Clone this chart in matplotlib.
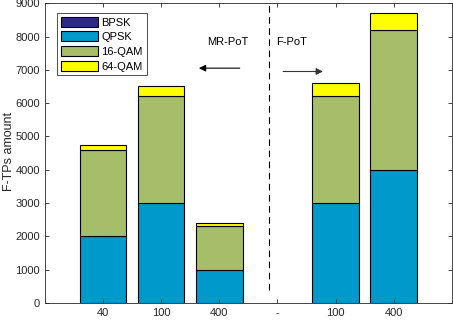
import matplotlib
matplotlib.use("Agg")
import matplotlib.pyplot as plt
import numpy as np

plt.rcParams['font.family'] = ['Liberation Sans', 'DejaVu Sans']

categories = ['40', '100', '400', '-', '100', '400']
bpsk = [0, 0, 0, 0, 0, 0]
qpsk = [2000, 3000, 1000, 0, 3000, 4000]
qam16 = [2600, 3200, 1300, 0, 3200, 4200]
qam64 = [150, 300, 100, 0, 400, 500]
series_names = ['BPSK', 'QPSK', '16-QAM', '64-QAM']
colors = ['#2e2a80', '#0099cc', '#a6bd6a', '#ffff00']

fig = plt.figure(figsize=(4.53, 3.2), dpi=100)
ax = fig.add_axes([0.0993, 0.053, 0.898, 0.937])

x = np.arange(1, len(categories) + 1)
bottom = np.zeros(len(categories))
for vals, name, c in zip([bpsk, qpsk, qam16, qam64], series_names, colors):
    vals = np.array(vals, dtype=float)
    bars = ax.bar(x, vals, 0.8, bottom=bottom, color=c, edgecolor='black', linewidth=0.8, label=name)
    for b, v in zip(bars, vals):
        if v == 0:
            b.set_visible(False)
    bottom += vals

ax.set_xlim(0, 7)
ax.set_ylim(0, 9000)
ax.set_xticks(x)
ax.set_xticklabels(categories)
ax.set_yticks(np.arange(0, 9001, 1000))
ax.tick_params(direction='in', top=True, right=True, labelsize=8, length=3, colors='#262626', width=0.6)
for s in ax.spines.values():
    s.set_color('#262626')
    s.set_linewidth(0.6)
ax.set_ylabel('F-TPs amount', fontsize=9, color='#262626')
ax.yaxis.set_label_coords(-0.074, 0.507)

ax.plot([3.86, 3.86], [390, 9000], color='black', linestyle=(0, (6, 4)), linewidth=0.8)

ax.text(3.15, 7850, 'MR-PoT', fontsize=8, ha='center', va='center')
ax.annotate('', xy=(2.6, 7050), xytext=(3.4, 7050),
            arrowprops=dict(arrowstyle='-|>', color='black', lw=0.8, mutation_scale=10))
ax.text(4.25, 7850, 'F-PoT', fontsize=8, ha='center', va='center')
ax.annotate('', xy=(4.83, 6950), xytext=(4.05, 6950),
            arrowprops=dict(arrowstyle='-|>', color='#333333', lw=0.8, mutation_scale=10))

# legend
handles, labels = ax.get_legend_handles_labels()
leg = ax.legend(handles, labels, loc='upper left', bbox_to_anchor=(0.025, 0.975), fontsize=8, frameon=True,
                fancybox=False, edgecolor='black', handlelength=3.3, handleheight=1.0,
                borderpad=0.35, labelspacing=0.35, handletextpad=0.3, borderaxespad=0.2)
leg.get_frame().set_linewidth(0.6)
for h in leg.legend_handles:
    h.set_visible(True)

fig.savefig('out.png', dpi=100)
